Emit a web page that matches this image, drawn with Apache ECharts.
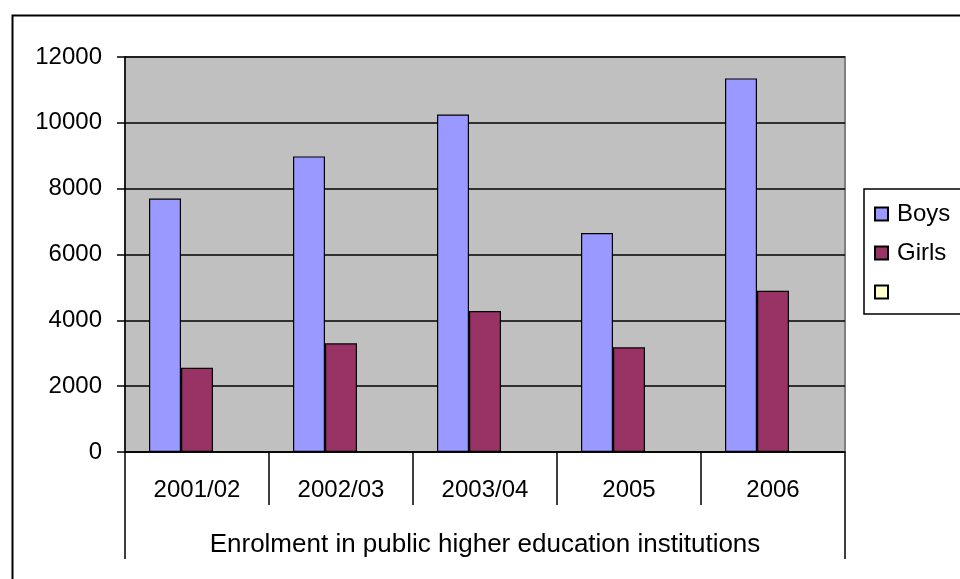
<!DOCTYPE html>
<html>
<head>
<meta charset="utf-8">
<script src="https://cdn.jsdelivr.net/npm/echarts@6/dist/echarts.min.js"></script>
<style>html,body{margin:0;padding:0;background:#fff}#c{width:960px;height:579px}</style>
</head>
<body>
<div id="c"></div>
<script>
var categories = ['2001/02', '2002/03', '2003/04', '2005', '2006'];
var outerCategory = ['Enrolment in public higher education institutions'];
var boys = [7700, 8980, 10250, 6650, 11350];
var girls = [2560, 3300, 4280, 3180, 4900];
var blank = [null, null, null, null, null];
var yTicks = [0, 2000, 4000, 6000, 8000, 10000, 12000];

var FONT = "'Liberation Sans', Arial, sans-serif";
var chart = echarts.init(document.getElementById('c'), null, {renderer: 'canvas'});
chart.setOption({
  backgroundColor: '#ffffff',
  animation: false,
  graphic: [{
    type: 'rect', left: 10, top: 13, z: 100, silent: true,
    shape: {width: 1000, height: 1000},
    style: {fill: 'none', stroke: '#000', lineWidth: 2}
  }],
  grid: {
    left: 125, right: 115, top: 57, bottom: 127,
    show: true, backgroundColor: '#C0C0C0', borderColor: '#808080', borderWidth: 2
  },
  legend: {
    orient: 'vertical', left: 864, top: 189,
    padding: [13, 60, 10, 10],
    borderColor: '#000', borderWidth: 1.5,
    itemWidth: 13, itemHeight: 13, itemGap: 15,
    icon: 'rect',
    textStyle: {fontFamily: FONT, fontSize: 24, color: '#000', padding: [0, 0, 0, 4]},
    data: ['Boys', 'Girls', ' ']
  },
  xAxis: [{
    type: 'category', data: categories, position: 'bottom',
    axisLine: {show: true, lineStyle: {color: '#000', width: 1.5}},
    axisTick: {show: true, interval: 0, length: 53, lineStyle: {color: '#000', width: 1.5}},
    axisLabel: {interval: 0, margin: 26, fontFamily: FONT, fontSize: 24, color: '#000'},
    splitLine: {show: false}
  }, {
    type: 'category', data: outerCategory, position: 'bottom',
    axisLine: {show: false},
    axisTick: {show: true, interval: 0, length: 107, lineStyle: {color: '#000', width: 1.5}},
    axisLabel: {interval: 0, margin: 80, fontFamily: FONT, fontSize: 26, color: '#000'},
    splitLine: {show: false}
  }],
  yAxis: {
    type: 'value', min: yTicks[0], max: yTicks[yTicks.length - 1], interval: 2000,
    axisLine: {show: true, lineStyle: {color: '#000', width: 1.5}},
    axisTick: {show: true, length: 8, lineStyle: {color: '#000', width: 1.5}},
    axisLabel: {margin: 23, fontFamily: FONT, fontSize: 24, color: '#000',
      formatter: function (v) { return String(v); }},
    splitLine: {show: true, lineStyle: {color: '#000', width: 1.5}}
  },
  series: [{
    name: 'Boys', type: 'bar', xAxisIndex: 0, data: boys, barWidth: 32, barGap: '0%',
    itemStyle: {color: '#9999FF', borderColor: '#000', borderWidth: 1.2}
  }, {
    name: 'Girls', type: 'bar', xAxisIndex: 0, data: girls, barWidth: 32, barGap: '0%',
    itemStyle: {color: '#993366', borderColor: '#000', borderWidth: 1.2}
  }, {
    name: ' ', type: 'bar', xAxisIndex: 0, data: blank, barWidth: 32, barGap: '0%',
    itemStyle: {color: '#FFFFCC', borderColor: '#000', borderWidth: 1.2}
  }]
});
</script>
</body>
</html>
